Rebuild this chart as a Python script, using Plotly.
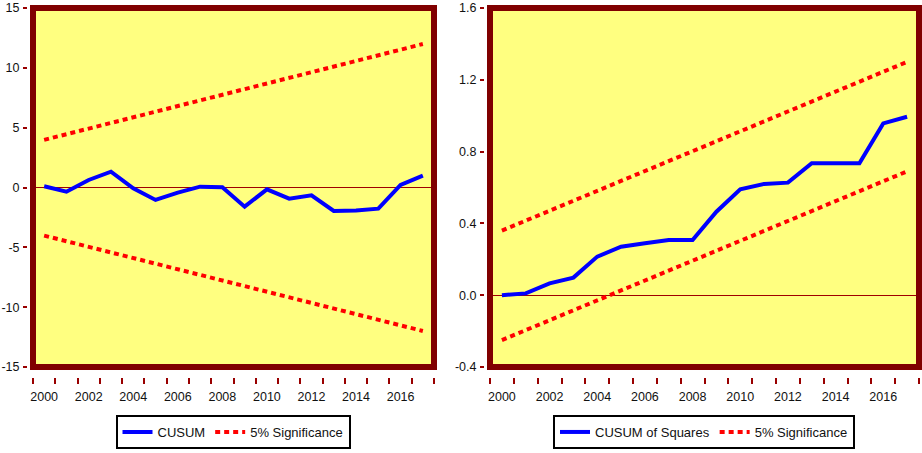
import plotly.graph_objects as go

# ---- data ----
years = list(range(2000, 2018))
cusum = [0.1, -0.35, 0.63, 1.32, -0.07, -1.04, -0.43, 0.07, 0.02, -1.6,
         -0.15, -0.93, -0.65, -1.96, -1.92, -1.77, 0.21, 0.99]
cusum_sig_years = [2000, 2017]
cusum_upper = [3.98, 11.99]
cusum_lower = [-4.02, -11.99]

cusumsq = [0.0, 0.01, 0.066, 0.098, 0.215, 0.27, 0.29, 0.307, 0.307, 0.465,
           0.59, 0.62, 0.627, 0.735, 0.735, 0.735, 0.957, 0.994]
sq_sig_years = [2000, 2017]
sq_upper = [0.36, 1.30]
sq_lower = [-0.25, 0.69]

x_labels = [2000, 2002, 2004, 2006, 2008, 2010, 2012, 2014, 2016]
y1_ticks = [15, 10, 5, 0, -5, -10, -15]
y1_text = ["15", "10", "5", "0", "-5", "-10", "-15"]
y2_ticks = [1.6, 1.2, 0.8, 0.4, 0.0, -0.4]
y2_text = ["1.6", "1.2", "0.8", "0.4", "0.0", "-0.4"]
year_bounds = [1999.5 + i for i in range(19)]

# ---- style ----
W, H = 922, 453
FONT = "Liberation Sans Narrow, Arial Narrow, Liberation Sans, Arial, sans-serif"
FRAME = "#800000"
TICKC = "#990000"
BLUE = "#0000FF"
RED = "#FF0000"
BG = "#FFFF80"

def px_x(p):
    return p / W

def px_y(p):
    return 1 - p / H

fig = go.Figure()

fig.add_trace(go.Scatter(x=years, y=cusum, mode="lines", name="CUSUM",
                         line=dict(color=BLUE, width=4), xaxis="x", yaxis="y",
                         legend="legend"))
fig.add_trace(go.Scatter(x=cusum_sig_years, y=cusum_upper, mode="lines", name="5% Significance",
                         line=dict(color=RED, width=4, dash="5px,4px"), xaxis="x", yaxis="y",
                         legend="legend"))
fig.add_trace(go.Scatter(x=cusum_sig_years, y=cusum_lower, mode="lines", name="5% Significance",
                         line=dict(color=RED, width=4, dash="5px,4px"), xaxis="x", yaxis="y",
                         legend="legend", showlegend=False))

fig.add_trace(go.Scatter(x=years, y=cusumsq, mode="lines", name="CUSUM of Squares",
                         line=dict(color=BLUE, width=4), xaxis="x2", yaxis="y2",
                         legend="legend2"))
fig.add_trace(go.Scatter(x=sq_sig_years, y=sq_upper, mode="lines", name="5% Significance",
                         line=dict(color=RED, width=4, dash="5px,4px"), xaxis="x2", yaxis="y2",
                         legend="legend2"))
fig.add_trace(go.Scatter(x=sq_sig_years, y=sq_lower, mode="lines", name="5% Significance",
                         line=dict(color=RED, width=4, dash="5px,4px"), xaxis="x2", yaxis="y2",
                         legend="legend2", showlegend=False))

ydom = [px_y(367), px_y(8)]

def xaxis_cfg(domain, pos):
    return dict(domain=domain, range=[1999.5, 2017.5], anchor="free", position=pos,
                tickmode="array", tickvals=x_labels, ticktext=[str(v) for v in x_labels],
                ticks="outside", ticklen=6, tickcolor="rgba(0,0,0,0)",
                ticklabelstandoff=2,
                minor=dict(tickmode="array", tickvals=year_bounds, ticks="outside",
                           ticklen=6, tickwidth=2, tickcolor=TICKC, showgrid=False),
                showgrid=False, zeroline=False, showline=False,
                tickfont=dict(family=FONT, size=12.5, color="#111"), automargin=False,
                fixedrange=True)

def yaxis_cfg(domain, rng, tv, tt, pos):
    return dict(domain=domain, range=rng, anchor="free", position=pos,
                tickmode="array", tickvals=tv, ticktext=tt,
                ticks="outside", ticklen=4, tickwidth=2, tickcolor=TICKC,
                ticklabelstandoff=1,
                showgrid=False, zeroline=True, zerolinecolor="#A00000", zerolinewidth=1,
                showline=False, tickfont=dict(family=FONT, size=12.5, color="#111"),
                automargin=False, fixedrange=True)

x1dom = [px_x(33), px_x(434)]
x2dom = [px_x(490), px_x(919)]

legend_common = dict(xanchor="center", yanchor="middle", orientation="h",
                     bgcolor="white", bordercolor="black", borderwidth=2,
                     font=dict(family=FONT, size=13, color="#111"), itemwidth=30,
                     tracegroupgap=0)

fig.update_layout(
    width=W, height=H,
    margin=dict(l=0, r=0, t=0, b=0),
    paper_bgcolor="white",
    plot_bgcolor=BG,
    xaxis=xaxis_cfg(x1dom, px_y(377)),
    xaxis2=xaxis_cfg(x2dom, px_y(377)),
    yaxis=yaxis_cfg(ydom, [-15, 15], y1_ticks, y1_text, px_x(27)),
    yaxis2=yaxis_cfg(ydom, [-0.4, 1.6], y2_ticks, y2_text, px_x(484)),
    legend=dict(x=px_x(233), y=px_y(432), **legend_common),
    legend2=dict(x=px_x(704), y=px_y(432), **legend_common),
    showlegend=True,
)

for xr, yr in (("x domain", "y domain"), ("x2 domain", "y2 domain")):
    fig.add_shape(type="rect", xref=xr, yref=yr, x0=0, x1=1, y0=0, y1=1,
                  line=dict(color=FRAME, width=6), fillcolor="rgba(0,0,0,0)", layer="above")

fig.write_html("out.html", config={"displayModeBar": False},
               post_script="document.body.style.margin='0';document.body.style.overflow='hidden';")
